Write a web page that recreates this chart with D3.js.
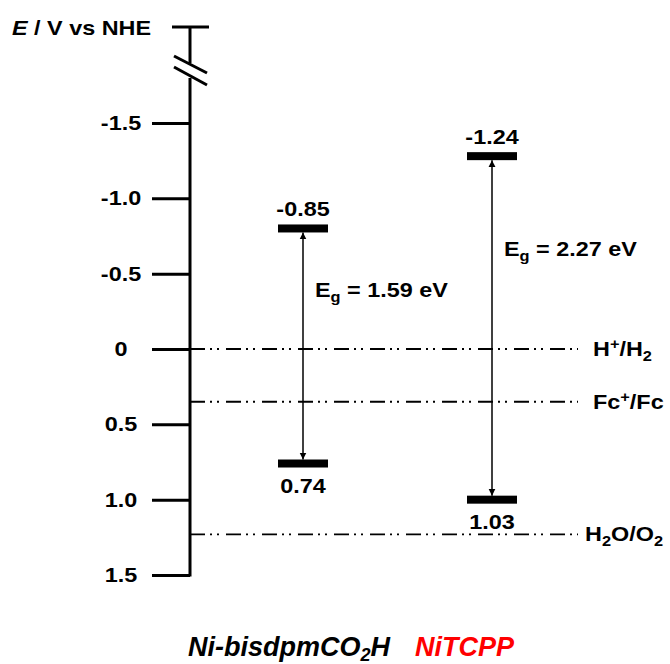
<!DOCTYPE html>
<html>
<head>
<meta charset="utf-8">
<script src="https://cdn.jsdelivr.net/npm/d3@7"></script>
<style>
  body { margin: 0; background: #fff; }
  text { font-family: Arial, "Liberation Sans", sans-serif; font-weight: bold; }
</style>
</head>
<body>
<svg id="chart" width="670" height="664"></svg>
<script>
// Energy levels vs NHE for the two complexes.
const materials = ["Ni-bisdpmCO2H", "NiTCPP"];
const materialColors = ["#000000", "#ff0000"];
const lumoLevels = [-0.80, -1.28];      // where the bars sit in the picture
const homoLevels = [0.76, 1.00];
const lumoLabels = ["-0.85", "-1.24"];
const homoLabels = ["0.74", "1.03"];
const gapLabels = ["1.59", "2.27"];

const refNames = [["H", "+", "/H", "2"], ["Fc", "+", "/Fc", ""], ["H", "2", "O/O", "2"]];
const refKinds = ["sup", "sup", "sub"];
const refValues = [0, 0.35, 1.23];

const tickValues = [-1.5, -1.0, -0.5, 0, 0.5, 1.0, 1.5];
const tickLabels = ["-1.5", "-1.0", "-0.5", "0", "0.5", "1.0", "1.5"];

const svg = d3.select("#chart");
const axisX = 190;
const stretch = 1.17;   // text in the figure is a bit wider than Arial

const yScale = d3.scaleLinear().domain([-1.5, 1.5]).range([123, 575]);
const xScale = d3.scalePoint().domain(materials).range([303, 492]);

// stretched text helper
function label(x, y, anchor) {
  return svg.append("text")
    .attr("transform", `translate(${x},${y}) scale(${stretch},1)`)
    .attr("text-anchor", anchor)
    .attr("font-size", 20);
}

// axis with ticks
const axis = d3.axisLeft(yScale)
  .tickValues(tickValues)
  .tickSize(38)
  .tickFormat((d, i) => tickLabels[i]);

const ag = svg.append("g").attr("transform", `translate(${axisX},0)`).call(axis);
ag.select(".domain").remove();
ag.selectAll(".tick line").attr("stroke", "#000").attr("stroke-width", 3);
ag.selectAll(".tick text").remove();

tickValues.forEach((v, i) => {
  label(121, yScale(v) + 7, "middle").text(tickLabels[i]);
});

// vertical axis line with a break near the top
svg.append("line").attr("x1", axisX).attr("x2", axisX).attr("y1", 27).attr("y2", 63)
  .attr("stroke", "#000").attr("stroke-width", 3);
svg.append("line").attr("x1", axisX).attr("x2", axisX).attr("y1", 78).attr("y2", yScale(1.5) + 1.5)
  .attr("stroke", "#000").attr("stroke-width", 3);
svg.append("line").attr("x1", 172).attr("x2", 209).attr("y1", 27).attr("y2", 27)
  .attr("stroke", "#000").attr("stroke-width", 3);
[[56, 73], [67, 85]].forEach(([a, b]) => {
  svg.append("line").attr("x1", 174).attr("x2", 207).attr("y1", a).attr("y2", b)
    .attr("stroke", "#000").attr("stroke-width", 3);
});

// axis title
const title = label(12, 35, "start");
title.append("tspan").attr("font-style", "italic").text("E");
title.append("tspan").text(" / V vs NHE");

// reference potentials
refValues.forEach((v, i) => {
  svg.append("line")
    .attr("x1", axisX).attr("x2", 578)
    .attr("y1", yScale(v)).attr("y2", yScale(v))
    .attr("stroke", "#000").attr("stroke-width", 1.8)
    .attr("stroke-dasharray", "15,5,2,5,2,7");
  const [a, s, b, t] = refNames[i];
  const shift = refKinds[i] === "sup" ? -7 : 5;
  const txt = label(i === 2 ? 585 : 593, yScale(v) + 7, "start");
  txt.append("tspan").text(a);
  txt.append("tspan").attr("dy", shift).attr("font-size", 14).text(s);
  txt.append("tspan").attr("dy", -shift).text(b);
  if (t) txt.append("tspan").attr("dy", 5).attr("font-size", 14).text(t);
});

// arrow markers
const defs = svg.append("defs");
defs.append("marker").attr("id", "head")
  .attr("viewBox", "0 0 10 10").attr("refX", 10).attr("refY", 5)
  .attr("markerWidth", 7).attr("markerHeight", 8).attr("markerUnits", "userSpaceOnUse")
  .attr("orient", "auto-start-reverse")
  .append("path").attr("d", "M0,0L10,5L0,10Z").attr("fill", "#000");

const barW = 50, barH = 8;

materials.forEach((m, i) => {
  const cx = xScale(m);
  const yT = yScale(lumoLevels[i]);
  const yB = yScale(homoLevels[i]);

  svg.append("line")
    .attr("x1", cx).attr("x2", cx)
    .attr("y1", yT + barH / 2).attr("y2", yB - barH / 2)
    .attr("stroke", "#000").attr("stroke-width", 1.5)
    .attr("marker-start", "url(#head)").attr("marker-end", "url(#head)");

  [yT, yB].forEach(y => {
    svg.append("rect")
      .attr("x", cx - barW / 2).attr("y", y - barH / 2)
      .attr("width", barW).attr("height", barH)
      .attr("fill", "#000");
  });

  label(cx, yT - barH / 2 - 8, "middle").text(lumoLabels[i]);
  label(cx, yB + 29, "middle").text(homoLabels[i]);

  const eg = label(cx + 12, yT + (yB - yT) * 0.29, "start");
  eg.append("tspan").text("E");
  eg.append("tspan").attr("dy", 5).attr("font-size", 14).text("g");
  eg.append("tspan").attr("dy", -5).text(` = ${gapLabels[i]} eV`);
});

// compound names
const names = svg.append("text")
  .attr("x", 188).attr("y", 656)
  .attr("font-size", 27).attr("font-style", "italic");
names.append("tspan").attr("fill", materialColors[0]).text("Ni-bisdpmCO");
names.append("tspan").attr("fill", materialColors[0]).attr("dy", 5).attr("font-size", 18).text("2");
names.append("tspan").attr("fill", materialColors[0]).attr("dy", -5).text("H");
names.append("tspan").attr("fill", materialColors[1]).attr("x", 415).text("NiTCPP");
</script>
</body>
</html>
